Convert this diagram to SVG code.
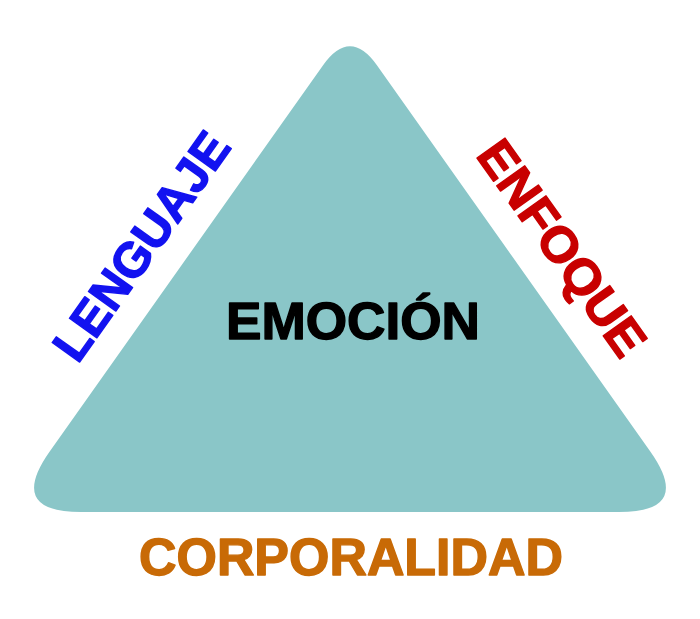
<svg xmlns="http://www.w3.org/2000/svg" width="700" height="619" viewBox="0 0 700 619">
<style>
.t{font-family:"Liberation Sans",Arial,sans-serif;font-weight:bold;text-anchor:middle;stroke-width:1.4;stroke-linejoin:round}
</style>
<rect width="700" height="619" fill="#ffffff"/>
<g id="triangle">
<path d="M 322.9 65.4 Q 350 27 377.1 65.4 L 650.3 451.6 Q 693 512 619 512 L 81 512 Q 7 512 49.7 451.6 Z" fill="#8AC6C8"/>
</g>
<g id="emocion">
<text class="t" x="353" y="339" font-size="52" textLength="254" lengthAdjust="spacingAndGlyphs" fill="#000000" stroke="#000000">EMOCIÓN</text>
</g>
<g id="lenguaje">
<text class="t" transform="translate(155,256) rotate(-54.6)" x="0" y="0" font-size="49" textLength="267" lengthAdjust="spacingAndGlyphs" fill="#1212F0" stroke="#1212F0">LENGUAJE</text>
</g>
<g id="enfoque">
<text class="t" transform="translate(548,258) rotate(54.6)" x="0" y="0" font-size="50" textLength="252" lengthAdjust="spacingAndGlyphs" fill="#C80000" stroke="#C80000">ENFOQUE</text>
</g>
<g id="corporalidad">
<text class="t" x="351" y="575" font-size="51" textLength="424" lengthAdjust="spacingAndGlyphs" fill="#C86A06" stroke="#C86A06">CORPORALIDAD</text>
</g>
<g id="connectors"></g>
</svg>
